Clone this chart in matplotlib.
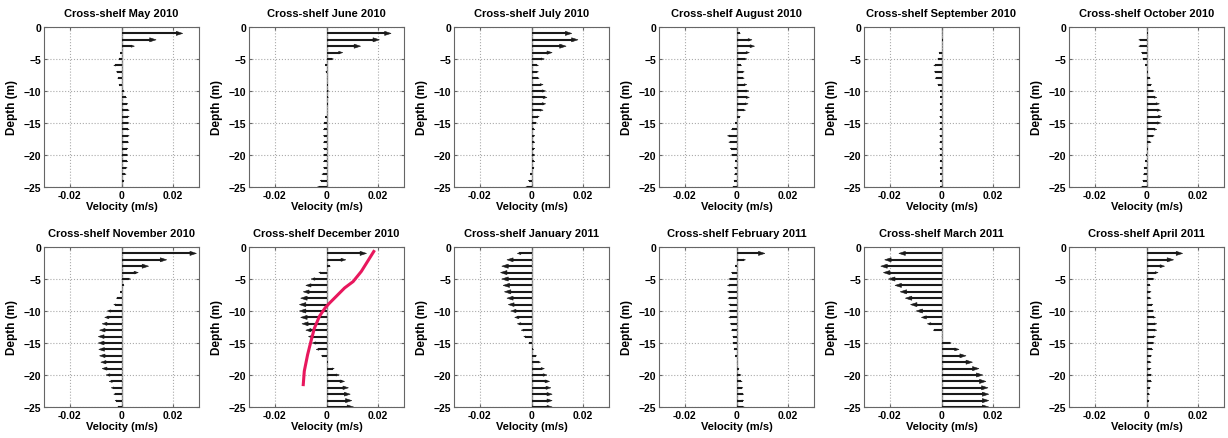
import numpy as np
import matplotlib
matplotlib.use('Agg')
import matplotlib.pyplot as plt

plt.rcParams['font.family'] = ['Liberation Sans', 'DejaVu Sans']
plt.rcParams['font.weight'] = 'bold'

depth = -np.arange(1, 26)  # bin depths (m)

titles = ['Cross-shelf May 2010', 'Cross-shelf June 2010', 'Cross-shelf July 2010',
          'Cross-shelf August 2010', 'Cross-shelf September 2010', 'Cross-shelf October 2010',
          'Cross-shelf November 2010', 'Cross-shelf December 2010', 'Cross-shelf January 2011',
          'Cross-shelf February 2011', 'Cross-shelf March 2011', 'Cross-shelf April 2011']

may10 = [0.0237, 0.0134, 0.005, -0.0005, -0.001, -0.003, -0.002, -0.0015, -0.001, 0.001,
         0.002, 0.0025, 0.003, 0.003, 0.003, 0.003, 0.003, 0.0028, 0.0025, 0.0025,
         0.0025, 0.0022, 0.0018, 0.001, 0.0]
jun10 = [0.025, 0.0205, 0.0132, 0.0063, 0.0027, -0.0005, -0.0003, 0.0003, 0.0005, 0.0008,
         0.0007, 0.0005, 0.0, -0.0005, -0.001, -0.0012, -0.0012, -0.0012, -0.0012, -0.0012,
         -0.0012, -0.0012, -0.0018, -0.0025, -0.0035]
jul10 = [0.0156, 0.018, 0.0134, 0.008, 0.005, 0.0027, 0.0027, 0.003, 0.0045, 0.0055,
         0.006, 0.0055, 0.0045, 0.003, 0.002, 0.0013, 0.0013, 0.0013, 0.0013, 0.0013,
         0.0013, 0.001, -0.0005, -0.0012, -0.0022]
aug10 = [0.0015, 0.006, 0.007, 0.005, 0.004, 0.002, 0.003, 0.003, 0.004, 0.0048,
         0.005, 0.0045, 0.0035, 0.0015, -0.0005, -0.002, -0.0035, -0.003, -0.0025, -0.002,
         -0.0005, -0.0008, -0.0008, -0.001, -0.0015]
sep10 = [0.0003, 0.0005, 0.0, -0.001, -0.0015, -0.003, -0.0028, -0.0025, -0.0015, -0.0005,
         -0.0005, -0.0006, -0.0006, -0.0007, -0.0007, -0.0007, -0.0007, -0.0007, -0.0007, -0.0007,
         -0.0006, -0.0006, -0.0005, -0.0005, -0.0005]
oct10 = [0.0005, -0.003, -0.003, -0.002, -0.0015, -0.0005, 0.0005, 0.0015, 0.002, 0.003,
         0.004, 0.005, 0.0055, 0.006, 0.0055, 0.004, 0.003, 0.0018, 0.0005, -0.0003,
         -0.0005, -0.001, -0.0012, -0.0015, -0.002]
nov10 = [0.029, 0.0175, 0.0105, 0.0065, 0.0035, 0.001, -0.0005, -0.002, -0.003, -0.0055,
         -0.0065, -0.0075, -0.0085, -0.009, -0.009, -0.0088, -0.0085, -0.008, -0.0075, -0.006,
         -0.0048, -0.004, -0.003, -0.0025, -0.0015]
dec10 = [0.0155, 0.0075, 0.0015, -0.003, -0.006, -0.008, -0.009, -0.01, -0.0105, -0.0105,
         -0.01, -0.0095, -0.008, -0.007, -0.0055, -0.004, -0.002, 0.0005, 0.003, 0.005,
         0.007, 0.0085, 0.0092, 0.0098, 0.0105]
jan11 = [-0.0055, -0.0095, -0.0115, -0.012, -0.0115, -0.011, -0.0105, -0.0095, -0.009, -0.008,
         -0.0065, -0.0055, -0.004, -0.003, -0.001, 0.0008, 0.002, 0.0035, 0.005, 0.006,
         0.007, 0.0075, 0.008, 0.008, 0.008]
feb11 = [0.011, 0.0035, -0.0005, -0.002, -0.003, -0.0035, -0.0035, -0.0033, -0.003, -0.003,
         -0.003, -0.0025, -0.002, -0.0015, -0.0015, -0.001, -0.0005, 0.0003, 0.001, 0.0018,
         0.0022, 0.0025, 0.0028, 0.0028, 0.003]
mar11 = [-0.0165, -0.022, -0.0235, -0.0225, -0.0205, -0.018, -0.016, -0.014, -0.012, -0.0098,
         -0.0078, -0.0055, -0.0032, 0.0002, 0.0038, 0.0068, 0.0095, 0.012, 0.0145, 0.016,
         0.0172, 0.018, 0.0183, 0.0183, 0.0183]
apr11 = [0.014, 0.0105, 0.007, 0.0045, 0.003, 0.0015, 0.0018, 0.0018, 0.0025, 0.0028,
         0.0035, 0.004, 0.004, 0.0035, 0.003, 0.0025, 0.002, 0.0018, 0.0018, 0.002,
         0.002, 0.0015, 0.0012, 0.001, 0.0]

profiles = [may10, jun10, jul10, aug10, sep10, oct10,
            nov10, dec10, jan11, feb11, mar11, apr11]

# red reference profile in December panel
red_u = [0.0183, 0.0135, 0.0103, 0.007, 0.0038, 0.0012, -0.0005, -0.0027, -0.0047, -0.006, -0.0073, -0.0086, -0.009]
red_z = [-0.7, -3.8, -5.4, -6.4, -7.7, -8.75, -9.5, -10.8, -12.7, -14.7, -16.8, -19.4, -21.5]

fig = plt.figure(figsize=(12.28, 4.39), dpi=100)
W, H = 1228., 439.
lefts = [44, 249, 454, 659, 864, 1069]
tops = [28, 248]
aw, ah = 155, 160

HL = 0.0025   # max head length (m/s)
HW = 0.32     # max head half-height (m)

for i, u in enumerate(profiles):
    r, c = divmod(i, 6)
    ax = fig.add_axes([lefts[c] / W, 1 - (tops[r] + ah) / H, aw / W, ah / H])
    ax.axvline(0, color='#808080', lw=1, zorder=1)
    u = np.asarray(u)
    for uu, zz in zip(u, depth):
        if uu == 0:
            continue
        hl = min(0.25 * abs(uu), HL)
        hw = HW * hl / HL
        sgn = np.sign(uu)
        ax.plot([0, uu - sgn * hl * 0.6], [zz, zz], color='#1a1a1a', lw=1.5,
                solid_capstyle='butt', zorder=3)
        ax.fill([uu, uu - sgn * hl, uu - sgn * hl], [zz, zz + hw, zz - hw],
                color='#1a1a1a', lw=0.4, zorder=3)
    if i == 7:
        ax.plot(red_u, red_z, color='#E8175D', lw=2.2, zorder=4)
    ax.set_xlim(-0.03, 0.03)
    ax.set_ylim(-25, 0)
    ax.set_xticks([-0.02, 0, 0.02])
    ax.set_xticklabels(['-0.02', '0', '0.02'])
    ax.set_yticks([0, -5, -10, -15, -20, -25])
    ax.grid(True, ls=':', color='#aaaaaa', lw=0.8)
    ax.tick_params(direction='in', length=2, labelsize=7.5, pad=2, top=True, right=True,
                   color='#666666')
    for s in ax.spines.values():
        s.set_color('#666666')
        s.set_linewidth(0.8)
    ax.set_title(titles[i], fontsize=8, fontweight='bold', pad=8)
    ax.set_xlabel('Velocity (m/s)', fontsize=8, fontweight='bold', labelpad=1)
    ax.set_ylabel('Depth (m)', fontsize=8.5, fontweight='bold', labelpad=4)

fig.savefig('out.png', dpi=100)
